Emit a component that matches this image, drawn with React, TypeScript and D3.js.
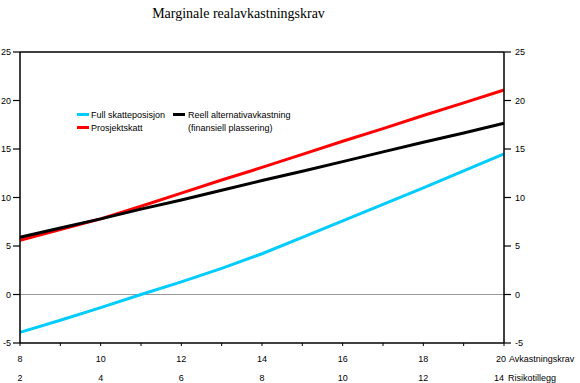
import React from "react";
import * as d3 from "d3";

const title = "Marginale realavkastningskrav";
const avkastningskrav = [8, 9, 10, 11, 12, 13, 14, 15, 16, 17, 18, 19, 20];
const fullSkatteposisjon = [-3.9, -2.65, -1.35, 0, 1.3, 2.7, 4.2, 5.9, 7.6, 9.3, 11.0, 12.75, 14.5];
const prosjektskatt = [5.6, 6.7, 7.8, 9.1, 10.45, 11.8, 13.1, 14.45, 15.8, 17.1, 18.45, 19.75, 21.08];
const reellAlternativ = [5.9, 6.85, 7.8, 8.8, 9.75, 10.75, 11.75, 12.7, 13.7, 14.7, 15.7, 16.65, 17.65];
const xTicksMajor = [8, 10, 12, 14, 16, 18, 20];
const risikotilleggLabels = ["2", "4", "6", "8", "10", "12", "14"];
const yTicks = [-5, 0, 5, 10, 15, 20, 25];

const series = [
  { name: "Full skatteposisjon", values: fullSkatteposisjon, color: "#00CCFF" },
  { name: "Prosjektskatt", values: prosjektskatt, color: "#FF0000" },
  { name: "Reell alternativavkastning", values: reellAlternativ, color: "#000000" },
];

const W = 580, H = 383;
const left = 20, right = 504, top = 52, bottom = 343;
const font = "'Liberation Sans', Arial, Helvetica, sans-serif";

export default function App() {
  const x = d3.scaleLinear().domain([8, 20]).range([left, right]);
  const y = d3.scaleLinear().domain([-5, 25]).range([bottom, top]);
  const line = d3.line<number>()
    .x((_, i) => x(avkastningskrav[i]))
    .y((d) => y(d));
  const minorTicks = d3.range(8, 21, 1);

  return (
    <svg width={W} height={H} style={{ position: "absolute", left: 0, top: 0, background: "#fff" }}>
      <text x={238.5} y={18} textAnchor="middle" fontFamily="'Liberation Serif', 'Times New Roman', serif" fontSize={14} fill="#000">{title}</text>

      {/* zero line */}
      <line x1={left} x2={right} y1={y(0)} y2={y(0)} stroke="#999" strokeWidth={1} />

      {/* series */}
      {series.map((s) => (
        <path key={s.name} d={line(s.values) || ""} fill="none" stroke={s.color} strokeWidth={3} />
      ))}

      {/* frame: top, left, right, bottom */}
      <line x1={left} x2={right} y1={top} y2={top} stroke="#000" strokeWidth={1.5} />
      <line x1={left} x2={right} y1={bottom} y2={bottom} stroke="#000" strokeWidth={1.5} />
      <line x1={left} x2={left} y1={top} y2={bottom} stroke="#000" strokeWidth={1.5} />
      <line x1={right} x2={right} y1={top} y2={bottom} stroke="#000" strokeWidth={1.5} />

      {/* y ticks left and right */}
      {yTicks.map((t) => (
        <g key={"y" + t}>
          <line x1={left - 7} x2={left} y1={y(t)} y2={y(t)} stroke="#000" strokeWidth={1.2} />
          <line x1={right} x2={right + 7} y1={y(t)} y2={y(t)} stroke="#000" strokeWidth={1.2} />
          <text x={11} y={y(t) + 3.2} textAnchor="end" fontFamily={font} fontSize={9} fill="#000">{t}</text>
          <text x={515} y={y(t) + 3.2} textAnchor="start" fontFamily={font} fontSize={9} fill="#000">{t}</text>
        </g>
      ))}

      {/* x minor ticks */}
      {minorTicks.map((t) => (
        <line key={"xm" + t} x1={x(t)} x2={x(t)} y1={bottom} y2={bottom + 3} stroke="#000" strokeWidth={1} />
      ))}

      {/* x labels */}
      {xTicksMajor.map((t, i) => {
        const last = i === xTicksMajor.length - 1;
        return (
          <g key={"xl" + t}>
            <text x={last ? x(t) + 2 : x(t)} y={362} textAnchor={last ? "end" : "middle"} fontFamily={font} fontSize={9} fill="#000">{t}</text>
            <text x={last ? x(t) : x(t)} y={381} textAnchor={last ? "end" : "middle"} fontFamily={font} fontSize={9} fill="#000">{risikotilleggLabels[i]}</text>
          </g>
        );
      })}
      <text x={509} y={362} fontFamily={font} fontSize={9} fill="#000">Avkastningskrav</text>
      <text x={508} y={381} fontFamily={font} fontSize={9} fill="#000">Risikotillegg</text>

      {/* legend */}
      <line x1={77} x2={89} y1={114.5} y2={114.5} stroke={series[0].color} strokeWidth={3} />
      <text x={91} y={118} fontFamily={font} fontSize={9} fill="#000">{series[0].name}</text>
      <line x1={77} x2={89} y1={127.5} y2={127.5} stroke={series[1].color} strokeWidth={3} />
      <text x={91} y={131} fontFamily={font} fontSize={9} fill="#000">{series[1].name}</text>
      <line x1={173} x2={185} y1={114.5} y2={114.5} stroke={series[2].color} strokeWidth={3} />
      <text x={188} y={118} fontFamily={font} fontSize={9} fill="#000">{series[2].name}</text>
      <text x={188} y={131} fontFamily={font} fontSize={9} fill="#000">(finansiell plassering)</text>
    </svg>
  );
}
